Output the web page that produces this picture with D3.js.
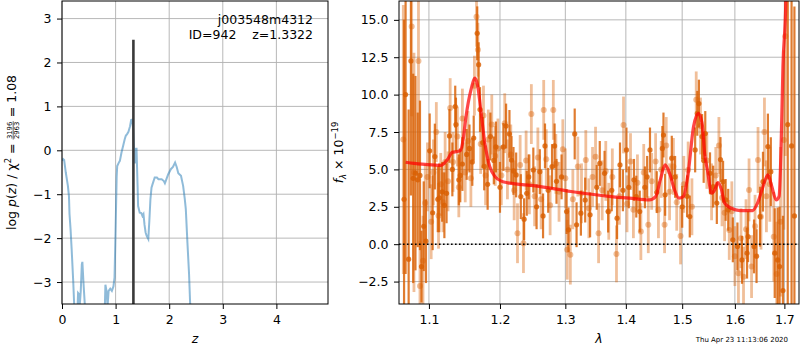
<!DOCTYPE html>
<html>
<head>
<meta charset="utf-8">
<script src="https://cdn.jsdelivr.net/npm/d3@7"></script>
<style>
  body { margin: 0; background: #fff; }
  svg text { font-family: "DejaVu Sans", sans-serif; }
</style>
</head>
<body>
<script>
// log p(z) curve
const pzZ = [0.00, 0.02, 0.04, 0.07, 0.11, 0.13, 0.14, 0.16, 0.18, 0.21, 0.23, 0.26, 0.29, 0.30, 0.32, 0.33, 0.35, 0.37, 0.38, 0.40, 0.44, 0.50, 0.60, 0.78,
  0.81, 0.83, 0.85, 0.87, 0.90, 0.93, 0.96, 0.98, 1.00, 1.02, 1.03, 1.06, 1.08, 1.11, 1.14, 1.17, 1.19, 1.22, 1.24, 1.27, 1.29, 1.31, 1.33, 1.34,
  1.36, 1.37, 1.38, 1.39, 1.41, 1.42, 1.45, 1.48, 1.50, 1.52, 1.54, 1.56, 1.58, 1.61, 1.63, 1.65, 1.67, 1.69, 1.73, 1.77, 1.80, 1.86, 1.90, 1.92,
  1.95, 1.98, 2.03, 2.07, 2.11, 2.14, 2.17, 2.22, 2.26, 2.29, 2.31, 2.34, 2.37, 2.39, 2.42, 2.50, 3.00, 4.96];
const pzLog = [-0.24, -0.20, -0.22, -0.50, -0.81, -1.05, -1.45, -1.80, -2.25, -3.00, -3.60, -4.20, -3.60, -3.25, -3.28, -3.55, -3.20, -2.60, -2.54, -3.00, -3.80, -4.50, -5.50, -4.50,
  -3.06, -3.20, -3.55, -3.20, -3.15, -3.20, -3.10, -2.90, -1.80, -0.60, -0.36, -0.28, -0.24, -0.05, 0.10, 0.25, 0.33, 0.38, 0.42, 0.55, 0.69, 0.70, 0.45, 0.17,
  -0.30, 0.05, -0.29, 0.06, -0.80, -1.27, -1.42, -1.43, -1.49, -1.45, -1.70, -1.87, -1.95, -2.02, -1.60, -1.11, -0.85, -0.77, -0.62, -0.62, -0.66, -0.66, -0.70, -0.75,
  -0.65, -0.55, -0.43, -0.38, -0.28, -0.38, -0.52, -0.58, -0.81, -1.10, -1.34, -2.10, -2.80, -3.46, -4.00, -4.80, -7.00, -9.00];
const zBest = 1.3322;
const zBestTop = 2.52;

// model spectrum
const modelWave = [1.069, 1.080, 1.095, 1.116, 1.125, 1.132, 1.139, 1.143, 1.147, 1.151, 1.158, 1.164, 1.168, 1.172, 1.178, 1.185, 1.193, 1.203, 1.212, 1.253,
  1.309, 1.375, 1.406, 1.441, 1.452, 1.461, 1.469, 1.477, 1.486, 1.494, 1.502, 1.511, 1.521, 1.530, 1.537, 1.542, 1.547, 1.555, 1.561, 1.567,
  1.574, 1.580, 1.593, 1.610, 1.635, 1.645, 1.655, 1.666, 1.674, 1.683, 1.689, 1.693, 1.697, 1.703, 1.706, 1.712];
const modelFlux = [5.48, 5.40, 5.33, 5.27, 5.65, 6.14, 6.20, 6.26, 6.97, 8.50, 10.30, 11.10, 10.50, 9.00, 6.75, 5.20, 4.50, 4.20, 4.10, 3.90,
  3.52, 3.18, 3.08, 2.96, 3.18, 4.40, 5.30, 4.74, 3.63, 3.08, 3.18, 4.74, 7.86, 8.75, 8.08, 6.00, 4.97, 3.41, 3.63, 4.12,
  3.63, 2.74, 2.40, 2.25, 2.25, 2.74, 3.74, 4.63, 3.85, 2.96, 3.20, 6.30, 11.90, 16.30, 22.0, 30.0];

// observed spectrum: [wavelength, flux, error]
const darkPts = [
  [1.067, 3.0, 12], [1.069, 10.0, 12], [1.073, -1.0, 10], [1.076, 12.25, 9], [1.079, 4.4, 7], [1.082, 4.75, 6.5],
  [1.085, 4.3, 4.5], [1.088, 4.6, 5], [1.090, -1.5, 2.4], [1.093, 1.2, 3], [1.096, 0.2, 2.8], [1.101, 6.24, 2.5],
  [1.105, 2.1, 2.5], [1.108, 5.86, 2.2], [1.112, 3.0, 2.2], [1.114, 3.1, 2.3], [1.118, 3.5, 2.0], [1.121, 2.6, 2.2],
  [1.124, 3.4, 2.0], [1.128, 7.24, 1.8], [1.132, 5.0, 1.8], [1.136, 9.2, 1.4], [1.137, 8.0, 1.8], [1.141, 4.3, 1.7],
  [1.143, 4.6, 1.8], [1.146, 5.36, 1.8], [1.152, 6.0, 1.7], [1.156, 6.4, 1.6], [1.160, 5.5, 1.6], [1.162, 7.1, 1.5],
  [1.167, 14.1, 1.8], [1.169, 12.0, 1.5], [1.171, 9.0, 1.5], [1.175, 6.8, 1.7], [1.177, 5.2, 1.6], [1.182, 4.0, 1.7],
  [1.186, 7.2, 1.6], [1.191, 5.6, 1.6], [1.194, 6.5, 1.7], [1.200, 3.8, 1.7], [1.205, 6.5, 1.6], [1.209, 7.9, 1.5],
  [1.214, 7.37, 1.6], [1.217, 5.63, 1.6], [1.220, 4.9, 1.6], [1.224, 4.63, 1.5], [1.231, 3.18, 1.5], [1.236, 1.67, 1.4],
  [1.240, 3.4, 1.5], [1.243, 4.5, 1.5], [1.250, 4.96, 1.5], [1.255, 2.5, 1.5], [1.260, 4.85, 1.5], [1.265, 1.89, 1.5],
  [1.268, 6.57, 1.5], [1.273, 3.6, 1.5], [1.279, 5.19, 1.5], [1.283, 6.57, 1.5], [1.286, 4.2, 1.5], [1.294, 4.5, 1.5],
  [1.302, 2.18, 1.5], [1.305, 0.96, 1.5], [1.315, 7.37, 1.7], [1.318, 1.3, 1.5], [1.325, 2.07, 1.5], [1.332, 2.95, 1.5],
  [1.340, 1.96, 1.5], [1.351, 3.8, 1.5], [1.356, 5.4, 1.5], [1.364, 4.74, 1.5], [1.370, 2.18, 1.4], [1.376, 3.6, 1.4],
  [1.385, 1.74, 1.4], [1.390, 5.3, 1.5], [1.395, 3.6, 1.4], [1.401, 6.3, 1.5], [1.405, 3.8, 1.4], [1.414, 4.3, 1.4],
  [1.418, 3.18, 1.4], [1.424, 2.18, 1.4], [1.433, 3.8, 1.4], [1.437, 4.5, 1.4], [1.442, 6.3, 1.5], [1.454, 3.48, 1.4],
  [1.464, 6.4, 1.5], [1.466, 7.3, 1.5], [1.469, 3.3, 1.4], [1.481, 5.75, 1.5], [1.487, 4.5, 1.4], [1.500, 2.5, 1.4],
  [1.509, 3.2, 1.4], [1.514, 1.85, 1.4], [1.524, 6.3, 1.5], [1.528, 8.75, 1.5], [1.531, 9.4, 1.6], [1.537, 7.2, 1.5],
  [1.540, 5.6, 1.5], [1.543, 7.4, 1.5], [1.552, 4.74, 1.4], [1.558, 3.85, 1.4], [1.565, 2.75, 1.4], [1.572, 5.66, 1.5],
  [1.577, 4.18, 1.4], [1.582, 2.96, 1.4], [1.587, 2.3, 1.4], [1.596, 0.29, 1.5], [1.605, -0.15, 1.6], [1.614, -1.05, 1.6],
  [1.624, -0.6, 1.7], [1.626, 0.5, 1.7], [1.638, -0.15, 1.8], [1.643, -0.8, 1.8], [1.650, 1.84, 2.0], [1.656, 4.18, 2.0],
  [1.666, 6.53, 2.2], [1.672, 4.85, 2.3], [1.680, -0.6, 3.0], [1.686, -1.05, 3.5], [1.690, -1.5, 4.0], [1.697, -3.1, 5.0],
  [1.707, 8.0, 15], [1.715, 6.57, 12], [1.721, 1.89, 14]
];
const lightPts = [
  [1.066, 7.0, 9], [1.077, 14.55, 6], [1.080, 4.8, 8], [1.086, 12.25, 7], [1.088, -2.8, 3], [1.092, -1.1, 3],
  [1.095, 2.75, 2.6], [1.098, 4.5, 2.3], [1.103, 1.5, 2.5], [1.106, 4.8, 2.2], [1.110, 7.5, 2.0], [1.113, 1.9, 2.2],
  [1.116, 4.0, 2.1], [1.119, 2.8, 2.0], [1.122, 5.5, 2.0], [1.126, 4.2, 2.0], [1.129, 9.1, 2.0], [1.133, 5.5, 2.0],
  [1.139, 7.2, 2.0], [1.141, 3.8, 2.0], [1.146, 8.4, 2.0], [1.150, 4.8, 2.0], [1.154, 6.9, 2.0], [1.158, 4.4, 1.9],
  [1.163, 10.6, 2.0], [1.166, 15.2, 2.0], [1.168, 13.0, 1.8], [1.172, 6.7, 2.0], [1.176, 8.6, 2.0], [1.179, 4.6, 2.0],
  [1.183, 7.0, 2.0], [1.188, 8.0, 2.0], [1.193, 5.9, 2.0], [1.197, 6.4, 2.0], [1.202, 4.6, 2.0], [1.207, 8.09, 2.0],
  [1.211, 5.0, 2.0], [1.216, 6.0, 2.0], [1.221, 3.6, 2.0], [1.226, 0.73, 2.0], [1.230, 5.3, 2.0], [1.235, 0.07, 2.0],
  [1.239, 5.6, 2.0], [1.244, 4.0, 2.0], [1.247, 8.7, 2.0], [1.252, 3.2, 2.0], [1.257, 5.8, 2.0], [1.262, 3.0, 2.0],
  [1.266, 8.98, 2.0], [1.270, 5.68, 2.0], [1.276, 2.6, 2.0], [1.281, 8.98, 2.0], [1.285, 5.37, 2.0], [1.290, 3.5, 2.0],
  [1.296, 6.35, 2.0], [1.300, 4.4, 2.0], [1.303, -0.37, 2.0], [1.308, -0.7, 2.0], [1.312, 3.0, 2.0], [1.320, 5.19, 2.0],
  [1.326, 3.4, 2.0], [1.333, 5.63, 2.0], [1.338, 2.4, 2.0], [1.344, 4.5, 2.0], [1.349, 5.85, 2.0], [1.354, 0.73, 2.0],
  [1.360, 3.6, 2.0], [1.366, 4.9, 2.0], [1.371, 2.2, 1.9], [1.377, 4.5, 1.9], [1.384, -0.65, 1.9], [1.389, 3.2, 1.9],
  [1.396, 7.97, 1.9], [1.402, 2.7, 1.9], [1.408, 5.52, 1.9], [1.413, 2.3, 1.9], [1.420, 4.1, 1.9], [1.426, 0.84, 1.9],
  [1.431, 4.8, 1.9], [1.439, 1.3, 1.9], [1.445, 4.2, 1.9], [1.452, 5.52, 1.9], [1.457, 2.3, 1.9], [1.462, 5.0, 1.9],
  [1.468, 1.3, 1.9], [1.471, 6.6, 1.9], [1.477, 3.5, 1.9], [1.484, 5.2, 1.9], [1.490, 2.8, 1.9], [1.497, 0.55, 1.9],
  [1.503, 4.0, 1.9], [1.511, 4.96, 1.9], [1.518, 2.5, 1.9], [1.526, 9.65, 1.9], [1.534, 7.9, 1.9], [1.546, 5.6, 1.9],
  [1.555, 3.5, 1.9], [1.563, 4.6, 1.9], [1.569, 6.6, 1.9], [1.575, 3.1, 1.9], [1.580, 2.1, 1.9], [1.589, 0.95, 2.0],
  [1.594, 2.2, 2.0], [1.600, -0.8, 2.0], [1.607, -1.94, 2.0], [1.612, 0.4, 2.0], [1.617, -2.17, 2.0], [1.622, 1.0, 2.0],
  [1.628, 3.63, 2.1], [1.633, -1.5, 2.1], [1.640, 1.2, 2.1], [1.646, 5.63, 2.2], [1.652, 1.84, 2.2], [1.659, 7.5, 2.3],
  [1.663, 3.2, 2.4], [1.670, 4.0, 2.5], [1.678, 0.5, 3.0], [1.684, -2.0, 3.5], [1.692, 1.5, 5.0], [1.699, 6.97, 6.0],
  [1.702, 13.9, 8.0]
];

const leftXTicks = [0, 1, 2, 3, 4];
const leftYTicks = [-3, -2, -1, 0, 1, 2, 3];
const rightXTicks = [1.1, 1.2, 1.3, 1.4, 1.5, 1.6, 1.7];
const rightYTicks = [-2.5, 0, 2.5, 5, 7.5, 10, 12.5, 15];

const specColor = "#d95f02";
const fontSize = 12.5;

const svg = d3.select("body").append("svg")
    .attr("width", 800)
    .attr("height", 350);

function drawPanel(id, x, y, xTicks, yTicks, xFmt, yFmt) {
    const [x0, x1] = x.range();
    const [y1, y0] = y.range();

    svg.append("clipPath").attr("id", id)
        .append("rect")
        .attr("x", x0).attr("y", y0)
        .attr("width", x1 - x0).attr("height", y1 - y0);

    const grid = svg.append("g");
    xTicks.forEach(t => {
        grid.append("line")
            .attr("x1", x(t)).attr("x2", x(t))
            .attr("y1", y0).attr("y2", y1)
            .style("stroke", "#b0b0b0").style("stroke-width", 0.9);
    });
    yTicks.forEach(t => {
        grid.append("line")
            .attr("x1", x0).attr("x2", x1)
            .attr("y1", y(t)).attr("y2", y(t))
            .style("stroke", "#b0b0b0").style("stroke-width", 0.9);
    });

    const plot = svg.append("g").attr("clip-path", "url(#" + id + ")");

    const xAxis = svg.append("g")
        .attr("transform", "translate(0," + y1 + ")")
        .call(d3.axisBottom(x).tickValues(xTicks).tickFormat(xFmt).tickSize(5).tickPadding(6));
    const yAxis = svg.append("g")
        .attr("transform", "translate(" + x0 + ",0)")
        .call(d3.axisLeft(y).tickValues(yTicks).tickFormat(yFmt).tickSize(5).tickPadding(5.5));

    [xAxis, yAxis].forEach(a => {
        a.select(".domain").remove();
        a.selectAll("text").style("font-size", fontSize + "px").style("fill", "#000")
            .style("font-family", "DejaVu Sans");
        a.selectAll("line").style("stroke", "#000");
    });

    return plot;
}

function drawFrame(x, y) {
    const [x0, x1] = x.range();
    const [y1, y0] = y.range();
    svg.append("rect")
        .attr("x", x0).attr("y", y0)
        .attr("width", x1 - x0).attr("height", y1 - y0)
        .style("fill", "none").style("stroke", "#000").style("stroke-width", 1);
}

// ---- left panel: log p(z) ----
const xz = d3.scaleLinear().domain([0, 4.963]).range([62, 328]);
const yp = d3.scaleLinear().domain([-3.5, 3.4]).range([304, 1]);
const left = drawPanel("clipL", xz, yp, leftXTicks, leftYTicks, d3.format("d"), d3.format("d"));

left.append("path")
    .datum(d3.zip(pzZ, pzLog))
    .attr("d", d3.line().x(d => xz(d[0])).y(d => yp(d[1])))
    .style("fill", "none")
    .style("stroke", "#1f77b4")
    .style("stroke-opacity", 0.5)
    .style("stroke-width", 2);

left.append("line")
    .attr("x1", xz(zBest)).attr("x2", xz(zBest))
    .attr("y1", yp(-3.5)).attr("y2", yp(zBestTop))
    .style("stroke", "#3a3a3a")
    .style("stroke-width", 2.6);

drawFrame(xz, yp);

svg.append("text")
    .attr("x", 313).attr("y", 24)
    .attr("text-anchor", "end")
    .style("font-size", fontSize + "px")
    .text("j003548m4312");
svg.append("text")
    .attr("x", 313).attr("y", 39)
    .attr("text-anchor", "end")
    .style("font-size", fontSize + "px")
    .style("white-space", "pre")
    .text("ID=942    z=1.3322");

svg.append("text")
    .attr("x", xz.range()[0] / 2 + xz.range()[1] / 2).attr("y", 343)
    .attr("text-anchor", "middle")
    .style("font-size", fontSize + "px")
    .style("font-style", "italic")
    .text("z");

// y label with fraction
const ylab = svg.append("g").attr("transform", "translate(16,152.5) rotate(-90)");
const part1 = ylab.append("text").style("font-size", fontSize + "px");
part1.append("tspan").text("log ");
part1.append("tspan").style("font-style", "italic").text("p");
part1.append("tspan").text("(");
part1.append("tspan").style("font-style", "italic").text("z");
part1.append("tspan").text(") / χ");
part1.append("tspan").attr("dy", -5).style("font-size", "8.5px").text("2");
part1.append("tspan").attr("dy", 5).style("white-space", "pre").text(" = ");
const num = ylab.append("text").style("font-size", "6.8px").attr("text-anchor", "middle").text("3196");
const den = ylab.append("text").style("font-size", "6.8px").attr("text-anchor", "middle").text("2963");
const part3 = ylab.append("text").style("font-size", fontSize + "px").style("white-space", "pre").text(" = 1.08");

const w1 = part1.node().getComputedTextLength();
const wf = Math.max(num.node().getComputedTextLength(), den.node().getComputedTextLength()) + 1;
const w3 = part3.node().getComputedTextLength();
const start = -(w1 + wf + w3) / 2;
part1.attr("x", start);
num.attr("x", start + w1 + wf / 2).attr("y", -4.2);
den.attr("x", start + w1 + wf / 2).attr("y", 3.2);
ylab.append("line")
    .attr("x1", start + w1).attr("x2", start + w1 + wf)
    .attr("y1", -2.8).attr("y2", -2.8)
    .style("stroke", "#000").style("stroke-width", 0.6);
part3.attr("x", start + w1 + wf);

// ---- right panel: spectrum ----
const xl = d3.scaleLog().domain([1.0604, 1.7307]).range([399, 799]);
const yf = d3.scaleLinear().domain([-4, 16.26]).range([304, 1]);
const right = drawPanel("clipR", xl, yf, rightXTicks, rightYTicks, d3.format(".1f"), d3.format(".1f"));

function drawErrorbars(pts, opacity, barWidth, r) {
    const g = right.append("g");
    g.selectAll("line").data(pts).join("line")
        .attr("x1", d => xl(d[0])).attr("x2", d => xl(d[0]))
        .attr("y1", d => yf(d[1] - d[2])).attr("y2", d => yf(d[1] + d[2]))
        .style("stroke", specColor)
        .style("stroke-opacity", opacity)
        .style("stroke-width", barWidth);
    g.selectAll("circle").data(pts).join("circle")
        .attr("cx", d => xl(d[0])).attr("cy", d => yf(d[1]))
        .attr("r", r)
        .style("fill", specColor)
        .style("fill-opacity", opacity);
}

drawErrorbars(lightPts, 0.4, 2.8, 3);
drawErrorbars(darkPts, 0.82, 2.2, 2.6);

right.append("path")
    .datum(d3.zip(modelWave, modelFlux))
    .attr("d", d3.line().x(d => xl(d[0])).y(d => yf(d[1])).curve(d3.curveMonotoneX))
    .style("fill", "none")
    .style("stroke", "#ff0000")
    .style("stroke-opacity", 0.72)
    .style("stroke-width", 3.2);

right.append("line")
    .attr("x1", xl.range()[0]).attr("x2", xl.range()[1])
    .attr("y1", yf(0)).attr("y2", yf(0))
    .style("stroke", "#000")
    .style("stroke-width", 1.6)
    .style("stroke-dasharray", "1.6,2.4");

drawFrame(xl, yf);

svg.append("text")
    .attr("x", 599).attr("y", 343)
    .attr("text-anchor", "middle")
    .style("font-size", fontSize + "px")
    .style("font-style", "italic")
    .text("λ");

const rlab = svg.append("g").attr("transform", "translate(343,152.5) rotate(-90)")
    .append("text")
    .attr("text-anchor", "middle")
    .style("font-size", fontSize + "px");
rlab.append("tspan").style("font-style", "italic").text("f");
rlab.append("tspan").attr("dy", 3).style("font-size", "8.5px").style("font-style", "italic").text("λ");
rlab.append("tspan").attr("dy", -3).style("white-space", "pre").text(" × 10");
rlab.append("tspan").attr("dy", -5).style("font-size", "8.5px").text("−19");

svg.append("text")
    .attr("x", 788).attr("y", 342)
    .attr("text-anchor", "end")
    .style("font-size", "7px")
    .text("Thu Apr 23 11:13:06 2020");
</script>
</body>
</html>
